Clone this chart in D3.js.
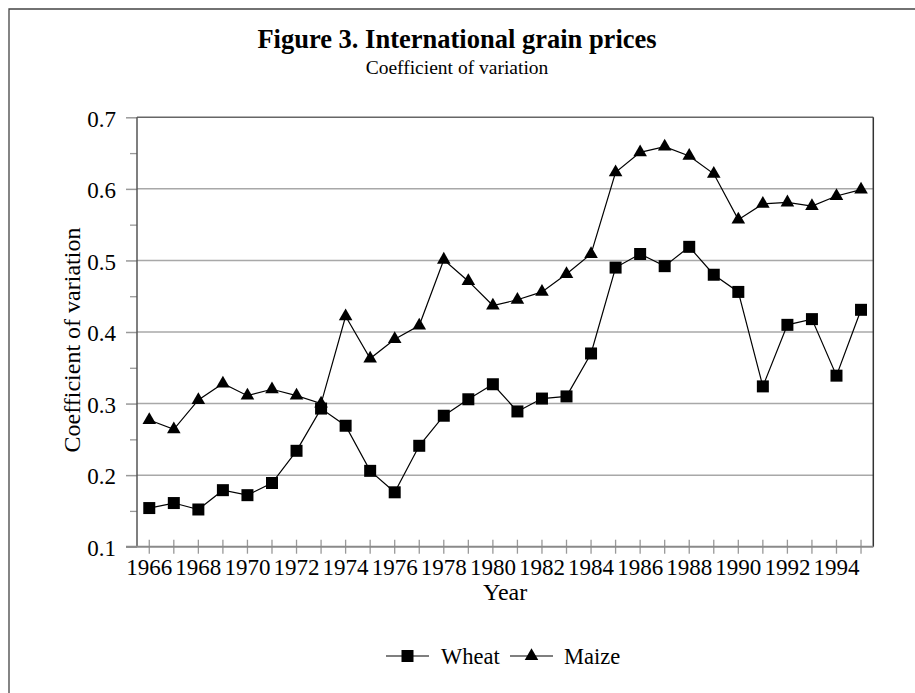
<!DOCTYPE html>
<html><head><meta charset="utf-8">
<script src="https://cdn.jsdelivr.net/npm/d3@7/dist/d3.min.js"></script>
<style>
body{margin:0;background:#fff}
svg{display:block}
text{font-family:"Liberation Serif","Times New Roman",Times,serif;fill:#000}
</style>
</head><body>
<svg id="c" width="915" height="693"></svg>
<script>
const years = [1966,1967,1968,1969,1970,1971,1972,1973,1974,1975,1976,1977,1978,1979,1980,
               1981,1982,1983,1984,1985,1986,1987,1988,1989,1990,1991,1992,1993,1994,1995];
const wheat = [0.154,0.161,0.152,0.179,0.172,0.189,0.234,0.293,0.269,0.206,0.176,0.241,0.283,0.306,0.327,
               0.289,0.307,0.310,0.370,0.490,0.509,0.492,0.519,0.480,0.456,0.324,0.410,0.418,0.339,0.431];
const maize = [0.277,0.264,0.305,0.328,0.311,0.320,0.311,0.300,0.422,0.363,0.390,0.409,0.501,0.471,0.437,
               0.445,0.456,0.481,0.509,0.623,0.651,0.659,0.646,0.621,0.557,0.579,0.581,0.576,0.590,0.599];
const yTickValues = [0.1,0.2,0.3,0.4,0.5,0.6,0.7];
const yMinorValues = [0.15,0.25,0.35,0.45,0.55,0.65];
const xLabelYears = [1966,1968,1970,1972,1974,1976,1978,1980,1982,1984,1986,1988,1990,1992,1994];
const seriesNames = ["Wheat","Maize"];
const titleText = "Figure 3. International grain prices";
const subtitleText = "Coefficient of variation";
const yTitle = "Coefficient of variation";
const xTitle = "Year";

const svg = d3.select("#c");
const L = 137, R = 873.3, T = 117.3, B = 546.7;

// outer frame (clipped at right/bottom in the reference)
svg.append("path").attr("d","M9,700 L9,9 L920,9").attr("fill","none")
   .attr("stroke","#444").attr("stroke-width",1.3);

const x = d3.scalePoint().domain(years).range([L,R]).padding(0.5);
const y = d3.scaleLinear().domain([0.1,0.7]).range([B,T]);

// title
svg.append("text").attr("x",457).attr("y",48).attr("text-anchor","middle")
   .attr("font-size",26.5).attr("font-weight","bold").text(titleText);
svg.append("text").attr("x",457).attr("y",74).attr("text-anchor","middle")
   .attr("font-size",19.5).text(subtitleText);

// gridlines
svg.append("g").selectAll("line").data(yTickValues.filter(v=>v>0.15 && v<0.65)).join("line")
   .attr("x1",L).attr("x2",R).attr("y1",d=>y(d)).attr("y2",d=>y(d))
   .attr("stroke","#a8a8a8").attr("stroke-width",1.5);

// y axis ticks & labels
const yAxis = d3.axisLeft(y).tickValues(yTickValues).tickSize(11).tickPadding(10).tickFormat(d3.format(".1f"));
const gy = svg.append("g").attr("transform",`translate(${L},0)`).call(yAxis);
gy.select(".domain").remove();
gy.selectAll(".tick line").attr("stroke","#999").attr("stroke-width",1.5);
gy.selectAll(".tick text").attr("font-size",23).attr("font-family","Liberation Serif").attr("dy","0.38em").attr("fill","#000");
const yMinor = d3.axisLeft(y).tickValues(yMinorValues).tickSize(7).tickFormat("");
const gym = svg.append("g").attr("transform",`translate(${L},0)`).call(yMinor);
gym.select(".domain").remove();
gym.selectAll(".tick line").attr("stroke","#999").attr("stroke-width",1.3);

// x ticks (crossing the axis)
svg.append("g").selectAll("line").data(years).join("line")
   .attr("x1",d=>x(d)).attr("x2",d=>x(d)).attr("y1",B-7).attr("y2",B+7)
   .attr("stroke","#999").attr("stroke-width",1.3);
svg.append("g").selectAll("text").data(xLabelYears).join("text")
   .attr("x",d=>x(d)).attr("y",575).attr("text-anchor","middle").attr("font-size",23).text(d=>d);

// frame lines
svg.append("line").attr("x1",L).attr("x2",R).attr("y1",T).attr("y2",T).attr("stroke","#666").attr("stroke-width",1.5);
svg.append("line").attr("x1",R).attr("x2",R).attr("y1",T).attr("y2",B).attr("stroke","#333").attr("stroke-width",1.5);
svg.append("line").attr("x1",L).attr("x2",L).attr("y1",T).attr("y2",B).attr("stroke","#555").attr("stroke-width",1.5);
svg.append("line").attr("x1",L-11).attr("x2",R).attr("y1",B).attr("y2",B).attr("stroke","#8a8a8a").attr("stroke-width",2);

// axis titles
svg.append("text").attr("transform","translate(80,340) rotate(-90)").attr("text-anchor","middle")
   .attr("font-size",24).text(yTitle);
svg.append("text").attr("x",(L+R)/2).attr("y",600).attr("text-anchor","middle")
   .attr("font-size",24).text(xTitle);

// series lines
const line = d3.line().x((d,i)=>x(years[i])).y(d=>y(d));
svg.append("path").datum(wheat).attr("d",line).attr("fill","none").attr("stroke","#000").attr("stroke-width",1.2);
svg.append("path").datum(maize).attr("d",line).attr("fill","none").attr("stroke","#000").attr("stroke-width",1.2);

const sq = d3.symbol().type(d3.symbolSquare).size(144);
const tri = d3.symbol().type(d3.symbolTriangle).size(80);
svg.append("g").selectAll("path").data(wheat).join("path")
   .attr("d",sq).attr("transform",(d,i)=>`translate(${x(years[i])},${y(d)})`).attr("fill","#000");
svg.append("g").selectAll("path").data(maize).join("path")
   .attr("d",tri).attr("transform",(d,i)=>`translate(${x(years[i])},${y(d)})`).attr("fill","#000");

// legend
const legY = 656;
const leg = [{name:seriesNames[0],x0:386,sym:sq,tx:441},{name:seriesNames[1],x0:510,sym:tri,tx:564}];
leg.forEach(l=>{
  svg.append("line").attr("x1",l.x0).attr("x2",l.x0+43).attr("y1",legY).attr("y2",legY).attr("stroke","#000").attr("stroke-width",1.2);
  svg.append("path").attr("d",l.sym).attr("transform",`translate(${l.x0+21.5},${legY})`).attr("fill","#000");
  svg.append("text").attr("x",l.tx).attr("y",legY+7.5).attr("font-size",22.5).text(l.name);
});
</script>
</body></html>
